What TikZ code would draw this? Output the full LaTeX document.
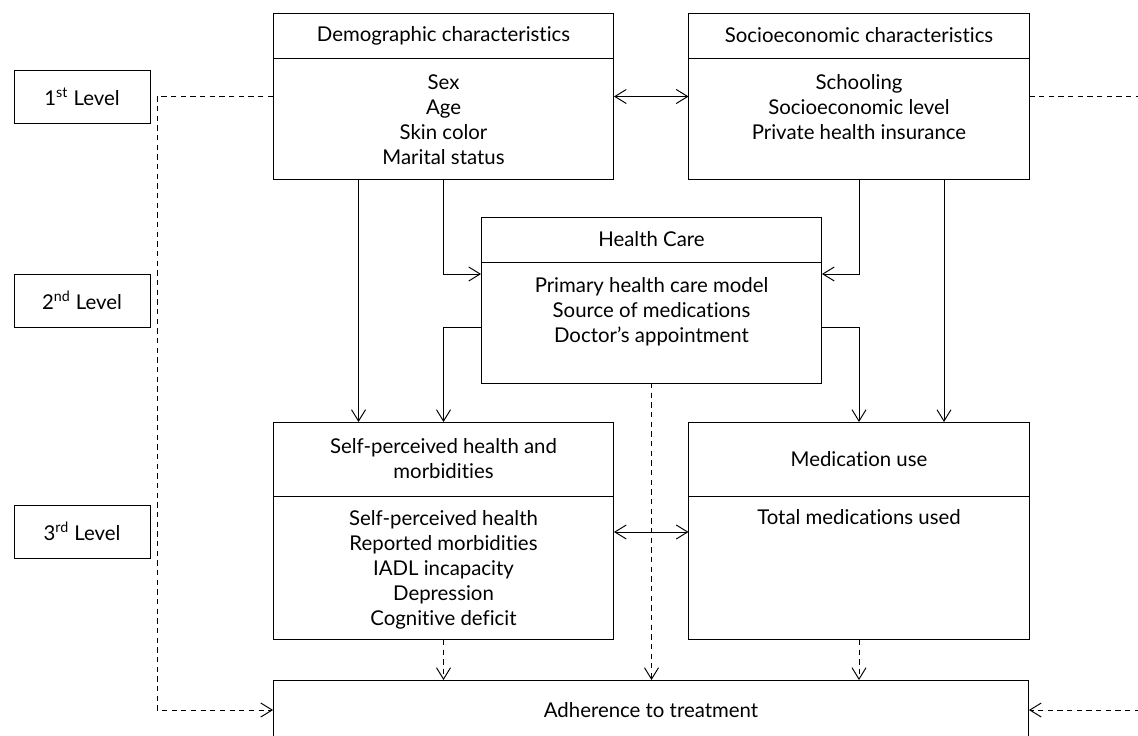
\documentclass[tikz,border=0pt]{standalone}
\usepackage{fontspec}
\setmainfont{Lato}[Ligatures=NoCommon]
\usetikzlibrary{arrows.meta,positioning}
\begin{document}
\begin{tikzpicture}[x=0.02cm,y=-0.02cm,>={Straight Barb[length=6.5pt,width=8pt]},
	font=\fontsize{11.6}{14.2}\selectfont, line width=0.55pt,
	box/.style={draw,minimum width=6.82cm,inner sep=0pt,outer sep=0pt,align=center},
	lvl/.style={draw,minimum width=2.72cm,minimum height=1.06cm},
	items/.style={anchor=north,align=center,inner sep=0pt},
	dsh/.style={dash pattern=on 3pt off 2.5pt}]
	\useasboundingbox (0,0) rectangle (1138,735);
	\clip (0,0) rectangle (1138,735);
	% levels
	\node[lvl] (lvl1) at (82,96.5) {1\textsuperscript{st} Level};
	\node[lvl] (lvl2) at (82,300.5) {2\textsuperscript{nd} Level};
	\node[lvl] (lvl3) at (82,531.5) {3\textsuperscript{rd} Level};
	% 1st level
	\node[box,minimum height=0.9cm] (demoh) at (443.5,35.5) {Demographic characteristics};
	\node[box,minimum height=2.44cm,below=0pt of demoh] (demo) {};
	\node[items] (demotx) at ([yshift=-0.32cm]demo.north) {Sex\\Age\\Skin color\\Marital status};
	\node[box,minimum height=0.9cm] (socioh) at (859,35.5) {Socioeconomic characteristics};
	\node[box,minimum height=2.44cm,below=0pt of socioh] (socio) {};
	\node[items] (sociotx) at ([yshift=-0.32cm]socio.north) {Schooling\\Socioeconomic level\\Private health insurance};
	% 2nd level
	\node[box,minimum height=0.9cm] (hch) at (651.5,239.5) {Health Care};
	\node[box,minimum height=2.42cm,below=0pt of hch] (hc) {};
	\node[items] (hctx) at ([yshift=-0.3cm]hc.north) {Primary health care model\\Source of medications\\Doctor's appointment};
	% 3rd level
	\node[box,minimum height=1.48cm] (sph) at (443.5,459) {Self-perceived health and\\morbidities};
	\node[box,minimum height=2.88cm,below=0pt of sph] (sp) {};
	\node[items] (sptx) at ([yshift=-0.28cm]sp.north) {Self-perceived health\\Reported morbidities\\IADL incapacity\\Depression\\Cognitive deficit};
	\node[box,minimum height=1.48cm] (medh) at (859,459) {Medication use};
	\node[box,minimum height=2.88cm,below=0pt of medh] (med) {};
	\node[items] (medtx) at ([yshift=-0.26cm]med.north) {Total medications used};
	% outcome
	\node[box,minimum width=15.12cm,minimum height=1.2cm] (adh) at (651,710) {Adherence to treatment};
	% arrows
	\draw[<->] (demo.east |- lvl1) -- (socio.west |- lvl1);
	\draw[->] ([xshift=-1.7cm]demo.south) -- ([xshift=-1.7cm]sph.north);
	\draw[->] (demo.south) |- ([yshift=-0.24cm]hc.north west);
	\draw[->] ([yshift=-1.3cm]hc.north west) -| (sph.north);
	\draw[->] (socio.south) |- ([yshift=-0.24cm]hc.north east);
	\draw[->] ([yshift=-1.3cm]hc.north east) -| (medh.north);
	\draw[->] ([xshift=1.7cm]socio.south) -- ([xshift=1.7cm]medh.north);
	\draw[<->] ([yshift=-0.72cm]sp.north east) -- ([yshift=-0.72cm]med.north west);
	% dashed paths to the outcome
	\coordinate (lx) at (157,96.5);
	\coordinate (rx) at (1150,96.5);
	\draw[dsh,->] (demo.west |- lvl1) -- (lx) |- (adh.west);
	\draw[dsh,->] (socio.east |- lvl1) -- (rx) |- (adh.east);
	\draw[dsh,->] (sp.south) -- (sp.south |- adh.north);
	\draw[dsh,->] (hc.south) -- (hc.south |- adh.north);
	\draw[dsh,->] (med.south) -- (med.south |- adh.north);
\end{tikzpicture}
\end{document}
